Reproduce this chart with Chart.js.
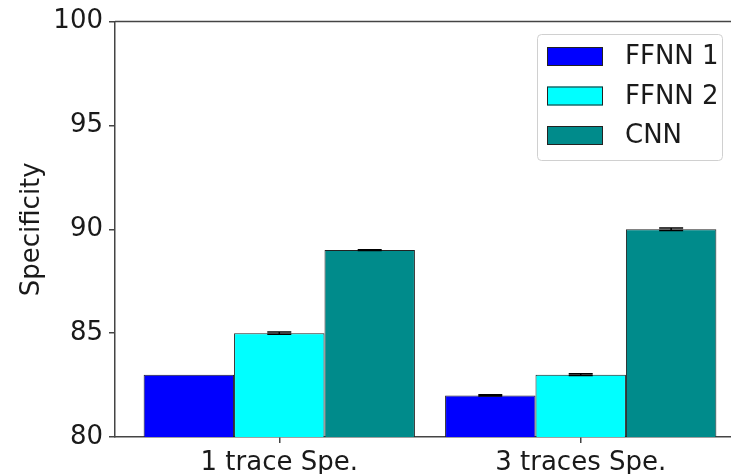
<!DOCTYPE html>
<html>
<head>
<meta charset="utf-8">
<script src="https://cdn.jsdelivr.net/npm/chart.js@4/dist/chart.umd.min.js"></script>
<style>
  html, body { margin: 0; padding: 0; background: #ffffff; overflow: hidden; width: 731px; height: 474px; }
  #wrap { position: relative; width: 760px; height: 474px; }
</style>
</head>
<body>
<div id="wrap"><canvas id="c" width="760" height="474"></canvas></div>
<script>
// ---- data ----
const categories = ['1 trace Spe.', '3 traces Spe.'];
const seriesNames = ['FFNN 1', 'FFNN 2', 'CNN'];
const ffnn1 = [83, 82];
const ffnn2 = [85, 83];
const cnn = [89, 90];
const ffnn1Err = [0.0, 0.03];
const ffnn2Err = [0.05, 0.04];
const cnnErr = [0.02, 0.06];
const yTicks = [80, 85, 90, 95, 100];
const colors = ['#0000ff', '#00ffff', '#008b8b'];

const FONT = 'DejaVu Sans';
const AXIS = '#444444';
const TEXT = '#1a1a1a';

const seriesVals = [ffnn1, ffnn2, cnn];
const seriesErrs = [ffnn1Err, ffnn2Err, cnnErr];

const datasets = seriesNames.map((name, s) => ({
  label: name,
  data: categories.map((c, i) => ({ x: i, y: seriesVals[s][i] })),
  errors: seriesErrs[s],
  backgroundColor: colors[s],
  borderColor: '#222222',
  borderWidth: 1,
  borderSkipped: false,
  categoryPercentage: 0.9,
  barPercentage: 1.0
}));

const framePlugin = {
  id: 'frame',
  afterDraw(chart) {
    const { ctx, chartArea: a } = chart;
    ctx.save();
    ctx.strokeStyle = AXIS;
    ctx.lineWidth = 1.5;
    ctx.beginPath();
    ctx.moveTo(a.left, a.top);
    ctx.lineTo(a.right, a.top);
    ctx.lineTo(a.right, a.bottom);
    ctx.stroke();
    ctx.restore();
  }
};

const errPlugin = {
  id: 'errbars',
  afterDatasetsDraw(chart) {
    const { ctx } = chart;
    const y = chart.scales.y;
    ctx.save();
    ctx.strokeStyle = '#000000';
    ctx.lineWidth = 1.5;
    chart.data.datasets.forEach((ds, di) => {
      const meta = chart.getDatasetMeta(di);
      meta.data.forEach((bar, i) => {
        const v = ds.data[i].y, e = ds.errors[i];
        if (!(e > 0)) return;
        const yt = y.getPixelForValue(v + e);
        const yb = y.getPixelForValue(v - e);
        const half = 12;
        ctx.beginPath();
        ctx.moveTo(bar.x, yt); ctx.lineTo(bar.x, yb);
        ctx.moveTo(bar.x - half, yt); ctx.lineTo(bar.x + half, yt);
        ctx.moveTo(bar.x - half, yb); ctx.lineTo(bar.x + half, yb);
        ctx.stroke();
      });
    });
    ctx.restore();
  }
};

const legendPlugin = {
  id: 'boxlegend',
  afterDraw(chart) {
    const { ctx } = chart;
    const bx = 537, by = 34, bw = 185, bh = 126, r = 4;
    ctx.save();
    ctx.fillStyle = 'rgba(255,255,255,0.85)';
    ctx.strokeStyle = '#d0d0d0';
    ctx.lineWidth = 1;
    ctx.beginPath();
    ctx.roundRect(bx + 0.5, by + 0.5, bw, bh, r);
    ctx.fill();
    ctx.stroke();
    ctx.font = '26px "' + FONT + '"';
    ctx.textBaseline = 'middle';
    ctx.textAlign = 'left';
    chart.data.datasets.forEach((ds, i) => {
      const cy = 56.5 + i * 39.5;
      ctx.fillStyle = ds.backgroundColor;
      ctx.fillRect(547, cy - 9.5, 56, 19);
      ctx.strokeStyle = '#222222';
      ctx.lineWidth = 1;
      ctx.strokeRect(547.5, cy - 9, 55, 18);
      ctx.fillStyle = TEXT;
      ctx.fillText(ds.label, 625, cy + 1);
    });
    ctx.restore();
  }
};

new Chart(document.getElementById('c'), {
  type: 'bar',
  data: { datasets },
  options: {
    responsive: false,
    devicePixelRatio: 1,
    animation: false,
    layout: { padding: { top: 21, right: 15, bottom: 0, left: 0 } },
    plugins: { legend: { display: false }, tooltip: { enabled: false } },
    scales: {
      x: {
        type: 'linear',
        min: -0.545,
        max: 1.545,
        offset: false,
        grid: { display: true, drawOnChartArea: false, drawTicks: true, tickLength: 6, color: AXIS, lineWidth: 1.5, offset: false },
        border: { display: true, color: AXIS, width: 1.5 },
        afterBuildTicks(scale) { scale.ticks = categories.map((c, i) => ({ value: i })); },
        afterFit(scale) { scale.height = 37; },
        ticks: {
          autoSkip: false,
          maxRotation: 0,
          padding: 5,
          color: TEXT,
          font: { family: FONT, size: 26 },
          callback: (v) => categories[v]
        }
      },
      y: {
        min: 80,
        max: 100,
        grid: { display: true, drawOnChartArea: false, drawTicks: true, tickLength: 6, color: AXIS, lineWidth: 1.5 },
        border: { display: true, color: AXIS, width: 1.5 },
        afterBuildTicks(scale) { scale.ticks = yTicks.map(v => ({ value: v })); },
        afterFit(scale) { scale.width = 115; },
        ticks: {
          padding: 6,
          color: TEXT,
          font: { family: FONT, size: 26 },
          callback: (v) => String(v)
        },
        title: {
          display: true,
          text: 'Specificity',
          color: TEXT,
          font: { family: FONT, size: 26 },
          padding: { top: 17, bottom: 0 }
        }
      }
    }
  },
  plugins: [framePlugin, errPlugin, legendPlugin]
});
</script>
</body>
</html>
